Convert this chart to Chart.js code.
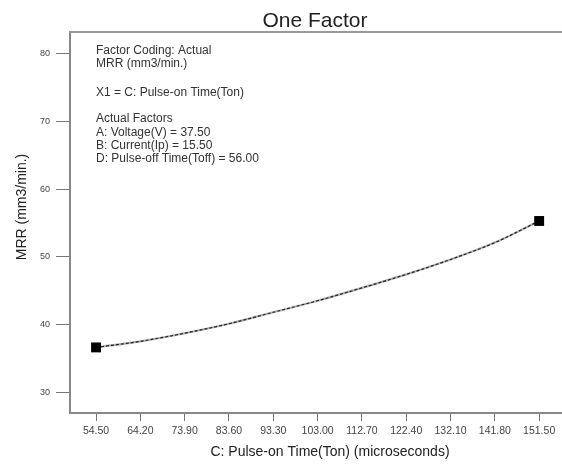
<!DOCTYPE html>
<html>
<head>
<meta charset="utf-8">
<script src="https://cdn.jsdelivr.net/npm/chart.js@4/dist/chart.umd.min.js"></script>
<style>
  html, body { margin: 0; padding: 0; background: #fff; }
  #wrap { width: 562px; height: 464px; }
</style>
</head>
<body>
<div id="wrap"><canvas id="c" width="562" height="464"></canvas></div>
<script>
// Pulse-on time (microseconds) and predicted MRR (mm3/min.)
const tonValues = [54.5, 64.2, 73.9, 83.6, 93.3, 103.0, 112.7, 122.4, 132.1, 141.8, 151.5];
const mrrValues = [36.6, 37.5, 38.7, 40.1, 41.8, 43.5, 45.4, 47.4, 49.6, 52.1, 55.3];

// Axis tick positions
const xTicks = [54.5, 64.2, 73.9, 83.6, 93.3, 103.0, 112.7, 122.4, 132.1, 141.8, 151.5];
const yTicks = [30, 40, 50, 60, 70, 80];

// Text of the annotation block
const infoLines = [
  'Factor Coding: Actual',
  'MRR (mm3/min.)',
  null,
  'X1 = C: Pulse-on Time(Ton)',
  null,
  'Actual Factors',
  'A: Voltage(V) = 37.50',
  'B: Current(Ip) = 15.50',
  'D: Pulse-off Time(Toff) = 56.00'
];
const infoBaselines = [54, 67, null, 96, null, 122, 136, 149, 162];

const chartTitle = 'One Factor';
const xTitle = 'C: Pulse-on Time(Ton) (microseconds)';
const yTitle = 'MRR (mm3/min.)';

const FONT = '"Liberation Sans", Arial, sans-serif';

const points = tonValues.map((x, i) => ({ x: x, y: mrrValues[i] }));
const endRadius = points.map((p, i) => (i === 0 || i === points.length - 1) ? 7 : 0);

const decor = {
  id: 'decor',
  afterDraw(chart) {
    const { ctx, chartArea } = chart;
    ctx.save();
    // top frame line
    ctx.strokeStyle = '#999';
    ctx.lineWidth = 2;
    ctx.beginPath();
    ctx.moveTo(chartArea.left, chartArea.top);
    ctx.lineTo(chart.width, chartArea.top);
    ctx.stroke();

    // chart title
    ctx.fillStyle = '#222';
    ctx.font = '21px ' + FONT;
    ctx.textAlign = 'center';
    ctx.textBaseline = 'alphabetic';
    ctx.fillText(chartTitle, 315, 27);

    // annotation block
    ctx.fillStyle = '#333';
    ctx.font = '12px ' + FONT;
    ctx.textAlign = 'left';
    infoLines.forEach((t, i) => {
      if (t) ctx.fillText(t, 96, infoBaselines[i]);
    });

    // x axis title
    ctx.fillStyle = '#222';
    ctx.font = '14px ' + FONT;
    ctx.textAlign = 'center';
    ctx.textBaseline = 'middle';
    ctx.fillText(xTitle, 330, 452);

    // y axis title
    ctx.translate(22, 207);
    ctx.rotate(-Math.PI / 2);
    ctx.fillText(yTitle, 0, 0);
    ctx.restore();
  }
};

new Chart(document.getElementById('c'), {
  type: 'line',
  data: {
    datasets: [
      {
        data: points,
        borderColor: '#b0b0b0',
        borderWidth: 2.2,
        pointRadius: 0,
        cubicInterpolationMode: 'monotone',
        order: 2
      },
      {
        data: points,
        borderColor: '#222',
        borderWidth: 1.2,
        borderDash: [3, 2],
        pointStyle: 'rect',
        pointRadius: endRadius,
        pointHoverRadius: endRadius,
        pointBackgroundColor: '#000',
        pointBorderColor: '#000',
        pointBorderWidth: 0,
        cubicInterpolationMode: 'monotone',
        order: 1
      }
    ]
  },
  options: {
    responsive: false,
    animation: false,
    events: [],
    layout: { autoPadding: false, padding: { top: 32, left: 0, right: 0, bottom: 0 } },
    plugins: {
      legend: { display: false },
      title: { display: false },
      tooltip: { enabled: false }
    },
    scales: {
      x: {
        type: 'linear',
        min: 48.8,
        max: 156.5,
        afterBuildTicks: s => { s.ticks = xTicks.map(v => ({ value: v })); },
        afterFit: s => { s.height = 51; s.paddingLeft = 0; s.paddingRight = 0; },
        ticks: {
          autoSkip: false,
          maxRotation: 0,
          padding: 4,
          color: '#444',
          font: { family: FONT, size: 10.5 },
          callback: v => Number(v).toFixed(2)
        },
        grid: {
          drawOnChartArea: false,
          drawTicks: true,
          tickLength: 8,
          color: '#777',
          lineWidth: 1
        },
        border: { display: true, color: '#888', width: 2 }
      },
      y: {
        type: 'linear',
        min: 26.9,
        max: 83.25,
        afterBuildTicks: s => { s.ticks = yTicks.map(v => ({ value: v })); },
        afterFit: s => { s.width = 70; s.paddingTop = 0; s.paddingBottom = 0; },
        ticks: {
          padding: 6,
          color: '#444',
          font: { family: FONT, size: 9 }
        },
        grid: {
          drawOnChartArea: false,
          drawTicks: true,
          tickLength: 14,
          color: '#777',
          lineWidth: 1
        },
        border: { display: true, color: '#888', width: 2 }
      }
    }
  },
  plugins: [decor]
});
</script>
</body>
</html>
